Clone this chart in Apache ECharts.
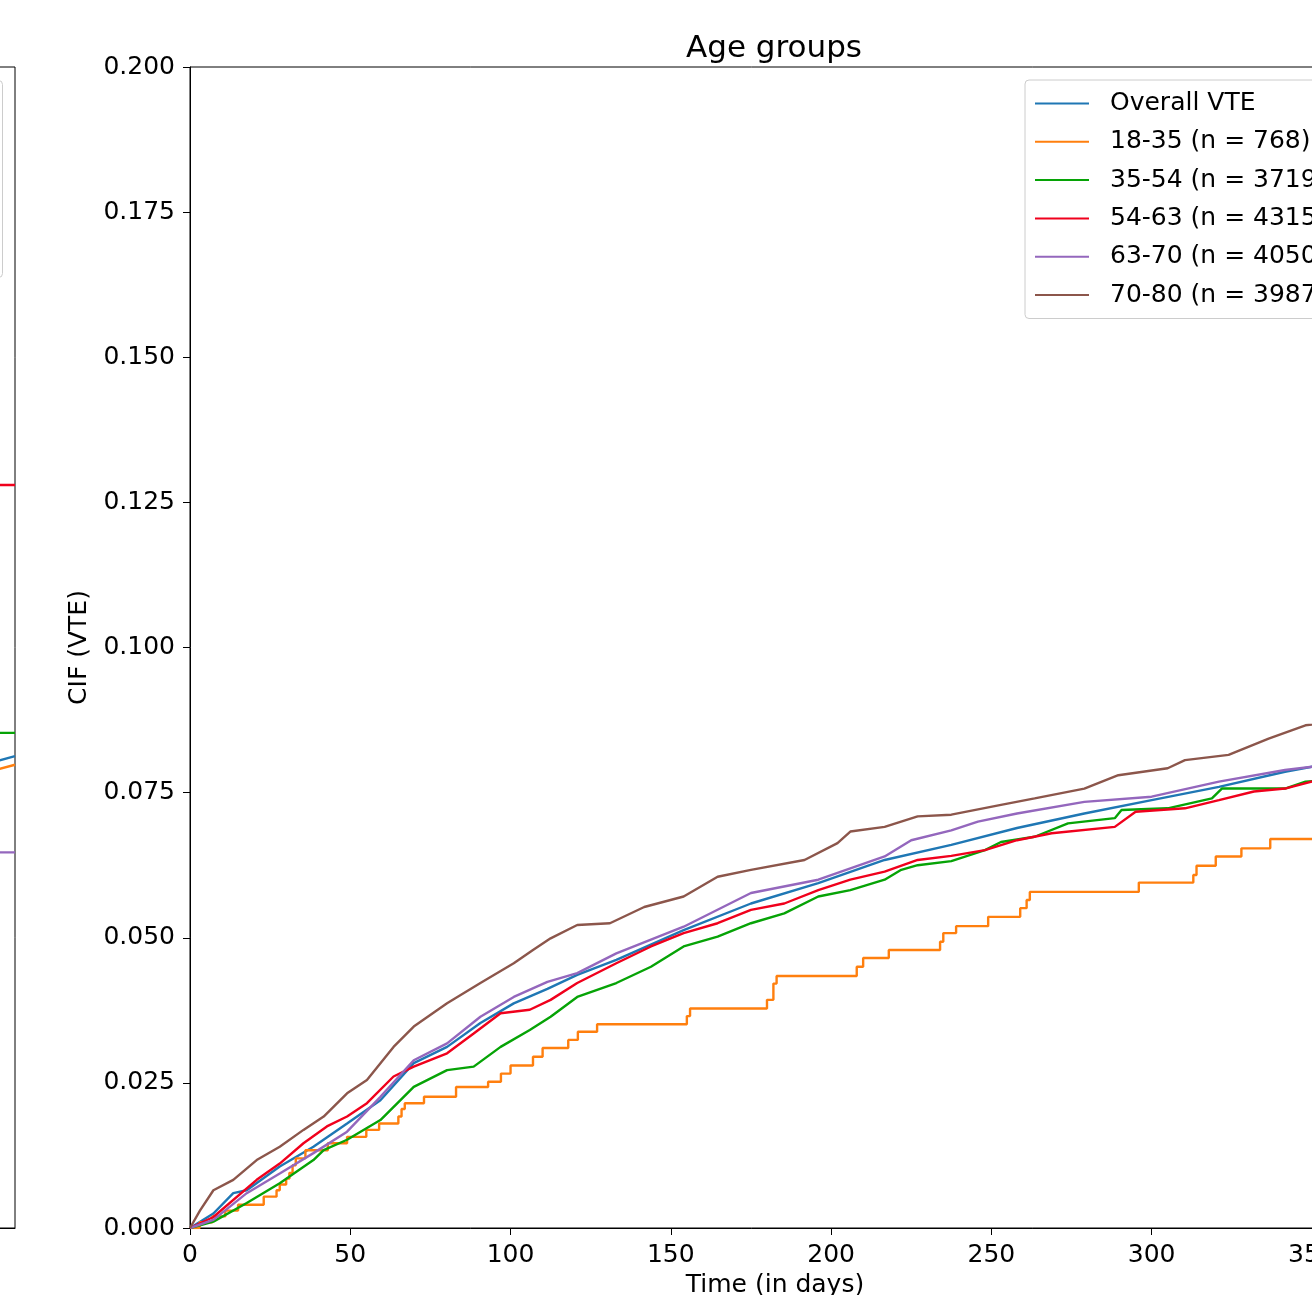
<!DOCTYPE html>
<html>
<head>
<meta charset="utf-8">
<script src="https://cdn.jsdelivr.net/npm/echarts@6/dist/echarts.min.js"></script>
<style>
  html, body { margin: 0; padding: 0; background: #fff; }
  #main { width: 1312px; height: 1295px; }
</style>
</head>
<body>
<div id="main"></div>
<script>
// series names as in the legend
var names = ['Overall VTE', '18-35 (n = 768)', '35-54 (n = 3719)', '54-63 (n = 4315)', '63-70 (n = 4050)', '70-80 (n = 3987)'];
var colors = ['#1f77b4', '#ff7f0e', '#06a306', '#f0001c', '#9467bd', '#8c564b'];

var xTicks = [0, 50, 100, 150, 200, 250, 300, 350];
var yTicks = [0, 0.025, 0.05, 0.075, 0.1, 0.125, 0.15, 0.175, 0.2];

// [day, CIF]
var overall = [[0,0],[7.3,0.0025],[13.5,0.006],[17.7,0.0065],[28,0.0106],[38.5,0.014],[49,0.018],[59.4,0.022],[69.8,0.0284],[80.2,0.0312],[90.6,0.0353],[101,0.0387],[111.5,0.0412],[120.8,0.0436],[133,0.0462],[154,0.0513],[175,0.0559],[196,0.0594],[216.7,0.0634],[237.5,0.066],[258,0.0689],[279,0.0714],[300,0.0737],[321,0.076],[341.6,0.0786],[350.6,0.0795],[365,0.0808]];

var age1835 = [[0,0],[3,0.001],[7,0.002],[11,0.003],[15,0.004],[23,0.0054],[27,0.0065],[28,0.0075],[30,0.0085],[31,0.0095],[32,0.0108],[33,0.012],[36,0.0134],[43,0.0146],[49,0.0157],[55,0.0169],[59,0.018],[65,0.0192],[66,0.0205],[67,0.0215],[73,0.0226],[83,0.0243],[93,0.0252],[97,0.0266],[100,0.028],[107,0.0295],[110,0.031],[118,0.0324],[121,0.0338],[127,0.0351],[155,0.0365],[156,0.0378],[180,0.0393],[182,0.0421],[183,0.0434],[208,0.045],[210,0.0465],[218,0.0479],[234,0.0493],[235,0.0508],[239,0.052],[249,0.0536],[259,0.0551],[261,0.0565],[262,0.0579],[296,0.0595],[313,0.0608],[314,0.0624],[320,0.064],[328,0.0654],[337,0.067],[365,0.067]];

var age3554 = [[0,0],[7.3,0.0011],[17.7,0.0043],[28,0.0077],[38.5,0.0117],[41.7,0.0134],[49,0.0152],[59.4,0.0186],[69.8,0.0243],[80.2,0.0272],[88.5,0.0278],[96.9,0.0312],[106,0.0341],[112.5,0.0364],[120.8,0.0398],[133,0.0422],[143.8,0.045],[154,0.0485],[164.6,0.0502],[175,0.0525],[185.4,0.0542],[196,0.0571],[206,0.0582],[216.7,0.06],[221.9,0.0617],[227,0.0625],[237.5,0.0632],[248,0.0651],[253,0.0665],[263.5,0.0674],[273.9,0.0697],[288.5,0.0706],[290.6,0.072],[305,0.0723],[318.8,0.074],[321.9,0.0757],[341.6,0.0757],[348,0.0769],[350.6,0.077],[365,0.0775]];

var age5463 = [[0,0],[7.3,0.0019],[20.8,0.0083],[28,0.0111],[35.4,0.0146],[42.7,0.0175],[49,0.0192],[55.2,0.0215],[63.5,0.0261],[69.8,0.0278],[80.2,0.0301],[88.5,0.0335],[96.9,0.037],[106,0.0376],[112.5,0.0393],[120.8,0.0422],[133,0.0456],[143.8,0.0485],[154,0.0508],[164.6,0.0525],[175,0.0548],[185.4,0.0559],[196,0.0582],[206,0.06],[216.7,0.0614],[227,0.0634],[237.5,0.0641],[248,0.0651],[258,0.0668],[268.8,0.068],[288.5,0.0691],[295,0.0717],[310.4,0.0723],[321,0.0737],[331.9,0.0752],[341.6,0.0757],[350.6,0.077],[365,0.0775]];

var age6370 = [[0,0],[7.3,0.0014],[17.7,0.006],[28,0.0094],[38.5,0.0129],[49,0.0166],[59.4,0.0226],[69.8,0.0289],[80.2,0.0318],[90.6,0.0364],[101,0.0398],[111.5,0.0424],[120.8,0.0439],[133,0.0473],[154,0.0519],[175,0.0577],[196,0.06],[216.7,0.064],[225,0.0668],[237.5,0.0685],[245.8,0.07],[258,0.0714],[279,0.0734],[300,0.0743],[321,0.0769],[341.6,0.0789],[350.6,0.0795],[365,0.0805]];

var age7080 = [[0,0],[3.1,0.003],[7.3,0.0065],[13.5,0.0083],[20.8,0.0117],[28,0.014],[35.4,0.0169],[41.7,0.0192],[49,0.0232],[55.2,0.0255],[63.5,0.0312],[69.8,0.0347],[80.2,0.0387],[90.6,0.0422],[101,0.0456],[107,0.0479],[112.5,0.0499],[120.8,0.0522],[131,0.0525],[141.7,0.0553],[154,0.0571],[164.6,0.0605],[175,0.0617],[191.7,0.0634],[202,0.0663],[206,0.0683],[216.7,0.0691],[227,0.0709],[237.5,0.0712],[253,0.0729],[263.5,0.074],[279,0.0757],[289.6,0.078],[305,0.0792],[310.4,0.0806],[324,0.0815],[336.5,0.0843],[348,0.0866],[365,0.0875]];

// the neighbouring panel, only its right end is visible
var leftOverall = [[358,0.0802],[365,0.0813]];
var left1835 = [[358,0.0788],[365,0.0798]];
var left3554 = [[355,0.0853],[365,0.0853]];
var left5463 = [[355,0.128],[365,0.128]];
var left6370 = [[355,0.0647],[365,0.0647]];

var font = 'DejaVu Sans';
var chart = echarts.init(document.getElementById('main'));

function line(name, data, color, axis, step) {
    return {
        name: name,
        type: 'line',
        data: data,
        xAxisIndex: axis,
        yAxisIndex: axis,
        step: step ? 'end' : false,
        symbol: 'none',
        animation: false,
        lineStyle: { color: color, width: 2.4 },
        itemStyle: { color: color }
    };
}

function axisPair(isMain) {
    return {
        x: {
            type: 'value', min: 0, max: 365, interval: 50,
            gridIndex: isMain ? 0 : 1,
            name: isMain ? 'Time (in days)' : '',
            nameLocation: 'middle', nameGap: 45,
            nameTextStyle: { fontFamily: font, fontSize: 25, color: '#000' },
            axisLine: { show: true, lineStyle: { color: '#000', width: 1 } },
            axisTick: { show: isMain, length: 7, lineStyle: { color: '#000' } },
            axisLabel: {
                show: isMain, margin: 15, showMaxLabel: false,
                fontFamily: font, fontSize: 25, color: '#000'
            },
            splitLine: { show: false }
        },
        y: {
            type: 'value', min: 0, max: 0.2, interval: 0.025,
            gridIndex: isMain ? 0 : 1,
            name: isMain ? 'CIF (VTE)' : '',
            nameLocation: 'middle', nameGap: 98,
            nameTextStyle: { fontFamily: font, fontSize: 25, color: '#000' },
            axisLine: { show: true, lineStyle: { color: '#000', width: 1 } },
            axisTick: { show: isMain, length: 7, lineStyle: { color: '#000' } },
            axisLabel: {
                show: isMain, margin: 15,
                fontFamily: font, fontSize: 25, color: '#000',
                formatter: function (v) { return v.toFixed(3); }
            },
            splitLine: { show: false }
        }
    };
}

var mainAxes = axisPair(true);
var leftAxes = axisPair(false);

chart.setOption({
    backgroundColor: '#fff',
    title: {
        text: 'Age groups',
        left: 769, top: 28, textAlign: 'center',
        textStyle: { fontFamily: font, fontSize: 31, fontWeight: 'normal', color: '#000' }
    },
    grid: [
        { left: 190, top: 67, width: 1170, height: 1161, outerBoundsMode: 'none', containLabel: false,
          show: true, borderColor: '#000', borderWidth: 1, backgroundColor: 'transparent' },
        { left: -1155, top: 67, width: 1170, height: 1161, outerBoundsMode: 'none', containLabel: false,
          show: true, borderColor: '#000', borderWidth: 1, backgroundColor: 'transparent' }
    ],
    xAxis: [mainAxes.x, leftAxes.x],
    yAxis: [mainAxes.y, leftAxes.y],
    legend: {
        data: names,
        orient: 'vertical',
        left: 1025, top: 80,
        padding: [11, 80, 11, 10],
        itemWidth: 54, itemHeight: 25, itemGap: 13.3,
        icon: 'path://M0,0 L54,0 L54,2 L0,2 Z',
        backgroundColor: 'rgba(255,255,255,0.8)',
        borderColor: '#cccccc', borderWidth: 1, borderRadius: 4,
        textStyle: { fontFamily: font, fontSize: 25, color: '#000', padding: [0, 0, 0, 16] }
    },
    graphic: [
        {
            type: 'rect', left: -200, top: 80, z: 10,
            shape: { width: 202, height: 197, r: 4 },
            style: { fill: 'rgba(255,255,255,0.8)', stroke: '#cccccc', lineWidth: 1 }
        }
    ],
    series: [
        line(names[0], overall, colors[0], 0, false),
        line(names[1], age1835, colors[1], 0, true),
        line(names[2], age3554, colors[2], 0, false),
        line(names[3], age5463, colors[3], 0, false),
        line(names[4], age6370, colors[4], 0, false),
        line(names[5], age7080, colors[5], 0, false),
        line(names[0], leftOverall, colors[0], 1, false),
        line(names[1], left1835, colors[1], 1, false),
        line(names[2], left3554, colors[2], 1, false),
        line(names[3], left5463, colors[3], 1, false),
        line(names[4], left6370, colors[4], 1, false)
    ]
});
</script>
</body>
</html>
